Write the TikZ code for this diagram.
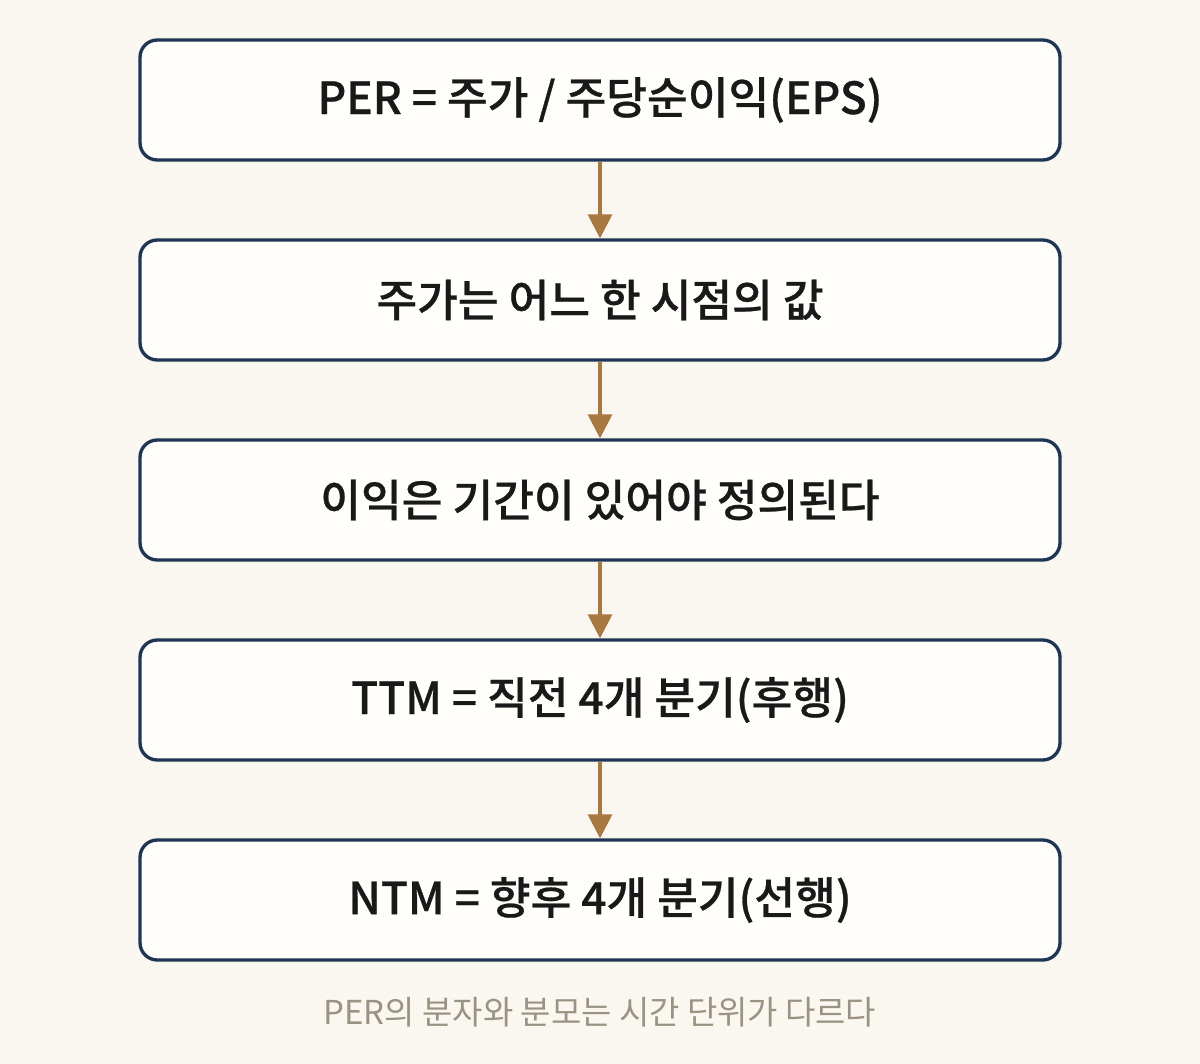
\documentclass[tikz,border=0pt]{standalone}
\usepackage{fontspec}
\setmainfont{Noto Sans CJK KR}
\newfontfamily\krmed{Noto Sans CJK KR Medium}[FakeBold=0.6]
\usetikzlibrary{arrows.meta}
\definecolor{bg}{HTML}{F9F7F0}
\definecolor{boxfill}{HTML}{FFFEFA}
\definecolor{navy}{HTML}{1F3556}
\definecolor{brownarr}{HTML}{A87840}
\definecolor{capgray}{HTML}{9A9282}
\begin{document}
\begin{tikzpicture}[x=0.75pt,y=-0.75pt,
  box/.style={draw=navy,line width=2.5pt,fill=boxfill,rounded corners=13pt,minimum width=690pt,minimum height=90pt,font=\krmed\fontsize{33.2}{38}\selectfont,text=black!90},
  arr/.style={draw=brownarr,line width=2.5pt,-{Triangle[length=18pt,width=18pt]}}]
\fill[bg] (0,0) rectangle (1200,1064);
\node[box] (b1) at (600,100) {PER = 주가 / 주당순이익(EPS)};
\node[box] (b2) at (600,300) {주가는 어느 한 시점의 값};
\node[box] (b3) at (600,500) {이익은 기간이 있어야 정의된다};
\node[box] (b4) at (600,700) {TTM = 직전 4개 분기(후행)};
\node[box] (b5) at (600,900) {NTM = 향후 4개 분기(선행)};
\draw[arr] (b1.south) -- (b2.north);
\draw[arr] (b2.south) -- (b3.north);
\draw[arr] (b3.south) -- (b4.north);
\draw[arr] (b4.south) -- (b5.north);
\node[text=capgray,font=\fontsize{24.7}{29}\selectfont] (cap) at (600,1012) {PER의 분자와 분모는 시간 단위가 다르다};
\end{tikzpicture}
\end{document}
